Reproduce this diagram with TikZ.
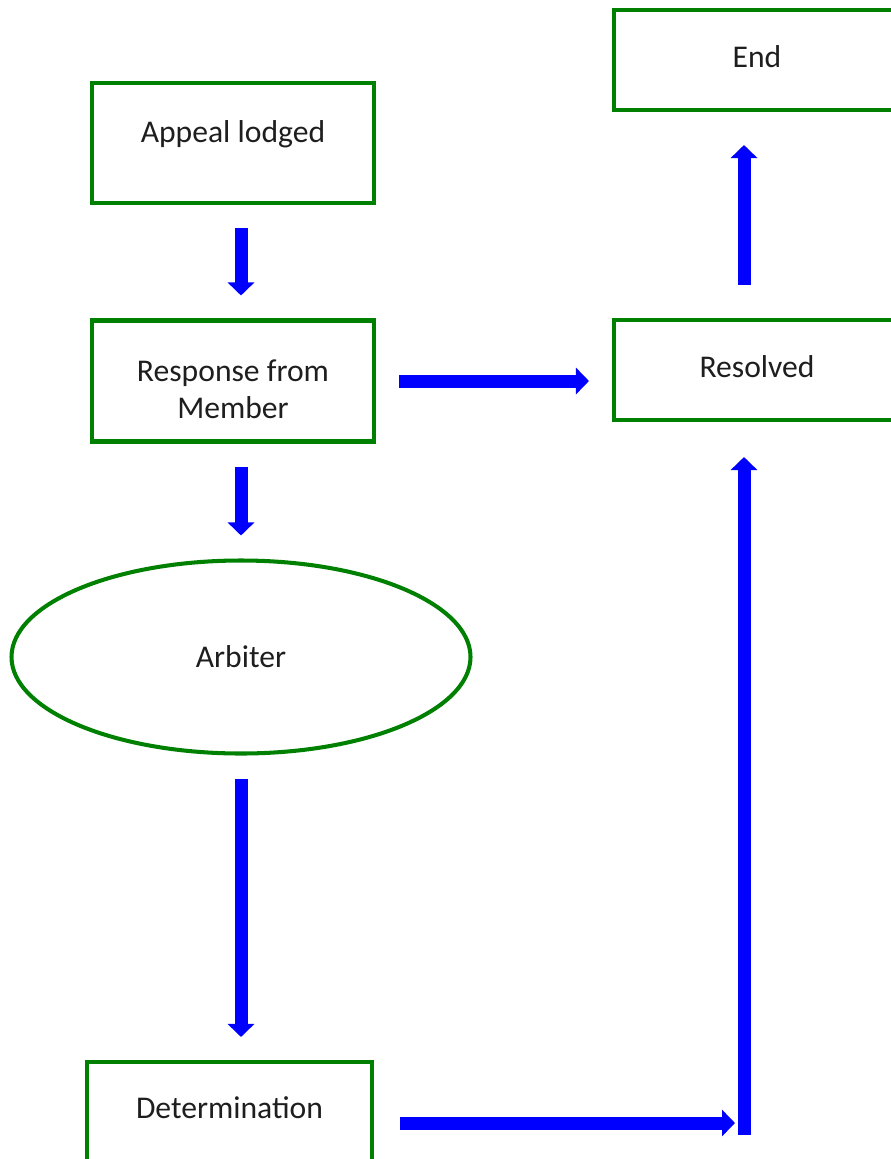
\documentclass[tikz,border=0pt]{standalone}
\usepackage{fontspec}
\setmainfont{Carlito}
\usetikzlibrary{arrows.meta,shapes.geometric}
\definecolor{boxgreen}{RGB}{0,128,0}
\definecolor{inkgrey}{RGB}{30,30,30}
\tikzset{
	stage/.style={draw=boxgreen, line width=2.3pt, rectangle, inner sep=0pt, align=center, text=inkgrey, font=\fontsize{18}{21}\selectfont},
	flow/.style={draw=blue, line width=0.26cm, -{Triangle[width=0.52cm, length=0.26cm]}, shorten >=0.46cm, shorten <=0.46cm}
}
\begin{document}
\begin{tikzpicture}
	\useasboundingbox (0,0) rectangle (17.82,-23.18);
	\node[stage, minimum width=5.64cm, minimum height=2.4cm] (appeal) at (4.66,-2.86) {Appeal lodged\rule[-0.45cm]{0pt}{0pt}};
	\node[stage, minimum width=5.64cm, minimum height=2.42cm] (response) at (4.66,-7.62) {\rule{0pt}{0.77cm}Response from\\Member};
	\node[stage, ellipse, minimum width=9.18cm, minimum height=3.86cm] (arbiter) at (4.82,-13.14) {Arbiter};
	\node[stage, minimum width=5.7cm, minimum height=2cm] (determination) at (4.59,-22.24) {Determination\rule[-0.16cm]{0pt}{0pt}};
	\node[stage, minimum width=5.72cm, minimum height=2cm] (end) at (15.14,-1.2) {End\rule[-0.13cm]{0pt}{0pt}};
	\node[stage, minimum width=5.72cm, minimum height=2cm] (resolved) at (15.14,-7.4) {Resolved\rule[-0.13cm]{0pt}{0pt}};

	\coordinate (lane) at (14.88,0);
	\coordinate (foot) at (14.88,-22.7);
	\coordinate (hit) at (14.7,-22.46);

	\draw[flow] (appeal.south -| arbiter) -- (response.north -| arbiter);
	\draw[flow] (response.south -| arbiter) -- (arbiter);
	\draw[flow] (arbiter) -- (determination.north -| arbiter);
	\draw[flow] (response.east) -- (response.east -| resolved.west);
	\draw[flow, shorten >=0.66cm, shorten <=0.66cm] (resolved.north -| lane) -- (end.south -| lane);
	\draw[flow, shorten <=0.52cm, shorten >=0cm] (determination.east |- hit) -- (hit);
	\draw[flow, shorten <=0cm, shorten >=0.7cm] (foot) -- (resolved.south -| lane);
\end{tikzpicture}
\end{document}
